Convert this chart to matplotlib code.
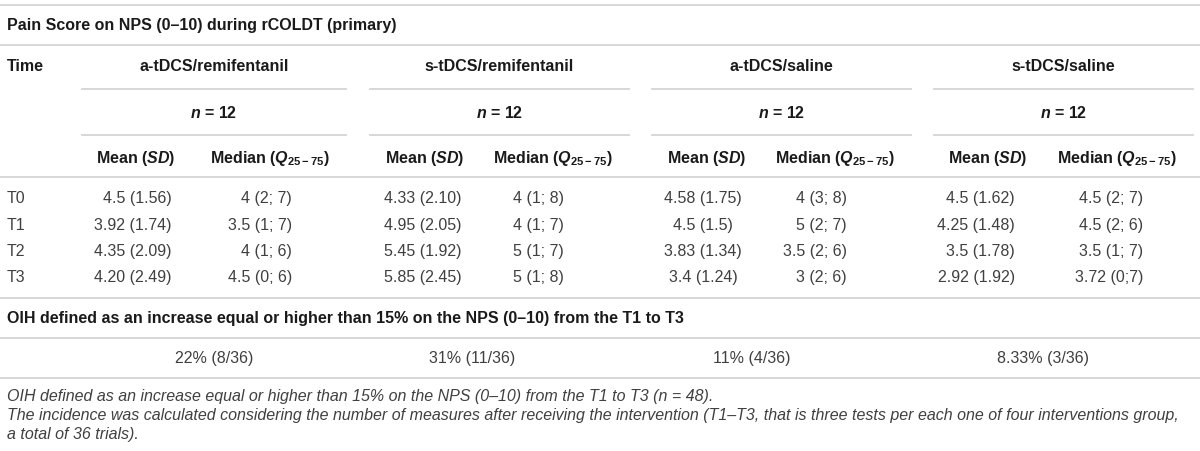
import matplotlib
matplotlib.use("Agg")
import matplotlib.pyplot as plt

plt.rcParams['font.family'] = ['Liberation Sans', 'DejaVu Sans']
plt.rcParams['mathtext.fontset'] = 'custom'
plt.rcParams['mathtext.rm'] = 'Liberation Sans'
plt.rcParams['mathtext.it'] = 'Liberation Sans:italic'
plt.rcParams['mathtext.bf'] = 'Liberation Sans:bold'
plt.rcParams['mathtext.bfit'] = 'Liberation Sans:italic:bold'

# table content
title = "Pain Score on NPS (0–10) during rCOLDT (primary)"
groups = ["a-tDCS/remifentanil", "s-tDCS/remifentanil", "a-tDCS/saline", "s-tDCS/saline"]
n_per_group = [12, 12, 12, 12]
times = ["T0", "T1", "T2", "T3"]
mean_sd = [
    ["4.5 (1.56)", "3.92 (1.74)", "4.35 (2.09)", "4.20 (2.49)"],
    ["4.33 (2.10)", "4.95 (2.05)", "5.45 (1.92)", "5.85 (2.45)"],
    ["4.58 (1.75)", "4.5 (1.5)", "3.83 (1.34)", "3.4 (1.24)"],
    ["4.5 (1.62)", "4.25 (1.48)", "3.5 (1.78)", "2.92 (1.92)"],
]
median_q = [
    ["4 (2; 7)", "3.5 (1; 7)", "4 (1; 6)", "4.5 (0; 6)"],
    ["4 (1; 8)", "4 (1; 7)", "5 (1; 7)", "5 (1; 8)"],
    ["4 (3; 8)", "5 (2; 7)", "3.5 (2; 6)", "3 (2; 6)"],
    ["4.5 (2; 7)", "4.5 (2; 6)", "3.5 (1; 7)", "3.72 (0;7)"],
]
oih_title = "OIH defined as an increase equal or higher than 15% on the NPS (0–10) from the T1 to T3"
oih_values = ["22% (8/36)", "31% (11/36)", "11% (4/36)", "8.33% (3/36)"]
notes = [
    "OIH defined as an increase equal or higher than 15% on the NPS (0–10) from the T1 to T3 (n = 48).",
    "The incidence was calculated considering the number of measures after receiving the intervention "
    "(T1–T3, that is three tests per each one of four interventions group,",
    "a total of 36 trials).",
]

# layout (pixels)
W, H = 1200, 451
group_spans = [(82, 346), (370, 629), (652, 911), (934, 1193)]
mean_cols = [(172, 'right'), (423, 'center'), (703, 'center'), (1015, 'right')]
median_cols = [(292, 'right'), (513, 'left'), (847, 'right'), (1143, 'right')]
mean_hdr_x = [136, 425, 707, 988]
median_hdr_x = [270, 553, 835, 1117]
oih_x = [214, 472, 752, 1043]
row_y = [197, 224, 250, 276]

line_c = '#d4d4d4'
dark = '#1a1a1a'
body = '#404040'
fs = 11.5

fig = plt.figure(figsize=(12, 4.51), dpi=100)
ax = fig.add_axes([0, 0, 1, 1])
ax.set_xlim(0, W)
ax.set_ylim(H, 0)
ax.axis('off')


def cell(x, y, s, ha='left', bold=False, italic=False):
    ax.text(x, y, s, fontsize=fs, ha=ha, va='center_baseline',
            fontweight='bold' if bold else 'normal',
            fontstyle='italic' if italic else 'normal',
            color=dark if bold else body)


for y in [5, 45, 177, 298, 338, 378]:
    ax.plot([0, W], [y, y], color=line_c, lw=1.3)
for y in [89, 135]:
    for x0, x1 in group_spans:
        ax.plot([x0, x1], [y, y], color=line_c, lw=1.3)

cell(7, 24, title, bold=True)
cell(7, 65, "Time", bold=True)

for i, g in enumerate(groups):
    cx = (group_spans[i][0] + group_spans[i][1]) / 2
    cell(cx, 65, g, ha='center', bold=True)
    cell(cx, 112, r"$\mathbfit{n}$ = %d" % n_per_group[i], ha='center', bold=True)
    cell(mean_hdr_x[i], 156, r"Mean ($\mathbfit{SD}$)", ha='center', bold=True)
    cell(median_hdr_x[i], 156, r"Median ($\mathbfit{Q}_{\mathbf{25-75}}$)", ha='center', bold=True)
    for j, y in enumerate(row_y):
        cell(mean_cols[i][0], y, mean_sd[i][j], ha=mean_cols[i][1])
        cell(median_cols[i][0], y, median_q[i][j], ha=median_cols[i][1])
    cell(oih_x[i], 357, oih_values[i], ha='center')

for j, t in enumerate(times):
    cell(7, row_y[j], t)

cell(7, 317, oih_title, bold=True)

for note, y in zip(notes, [395, 414, 433]):
    cell(7, y, note, italic=True)

fig.savefig("out.png", dpi=100)
